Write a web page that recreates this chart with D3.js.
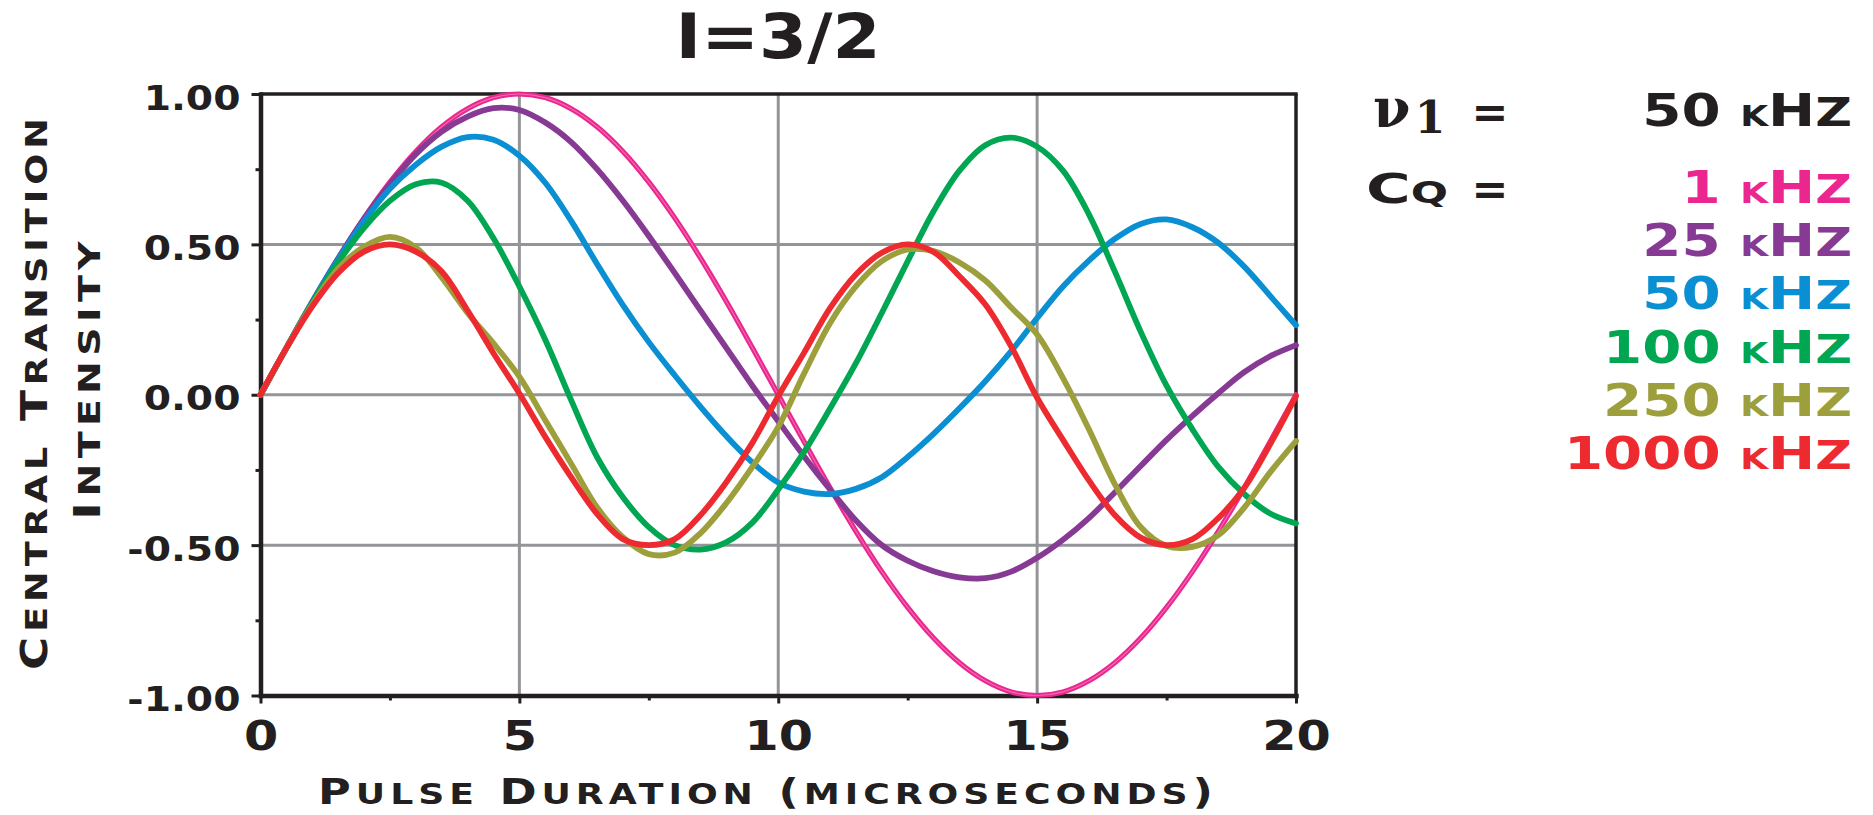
<!DOCTYPE html>
<html>
<head>
<meta charset="utf-8">
<script src="https://cdn.jsdelivr.net/npm/d3@7"></script>
<style>
  html, body { margin: 0; padding: 0; background: #ffffff; }
  svg { display: block; }
  text { font-family: "DejaVu Sans", sans-serif; font-weight: bold; fill: #231f20; }
</style>
</head>
<body>
<svg id="chart" width="1873" height="815"></svg>
<script>
// Pulse duration samples (microseconds)
const pulseTimes = [0,0.5,1,1.5,2,2.5,3,3.5,4,4.5,5,5.5,6,6.5,7,7.5,8,8.5,9,9.5,10,
  10.5,11,11.5,12,12.5,13,13.5,14,14.5,15,15.5,16,16.5,17,17.5,18,18.5,19,19.5,20];

// Central transition intensity for each quadrupole coupling constant
const cq1 = [0,0.156,0.309,0.454,0.588,0.707,0.809,0.891,0.951,0.988,1.000,
  0.988,0.951,0.891,0.809,0.707,0.588,0.454,0.309,0.156,0,
  -0.156,-0.309,-0.454,-0.588,-0.707,-0.809,-0.891,-0.951,-0.988,-1.000,
  -0.988,-0.951,-0.891,-0.809,-0.707,-0.588,-0.454,-0.309,-0.156,0];
const cq25 = [0,0.156,0.309,0.453,0.585,0.700,0.800,0.875,0.925,0.953,0.947,
  0.905,0.840,0.750,0.645,0.528,0.405,0.280,0.155,0.030,-0.088,
  -0.205,-0.315,-0.418,-0.500,-0.552,-0.587,-0.607,-0.610,-0.588,-0.542,
  -0.482,-0.410,-0.325,-0.237,-0.150,-0.070,0.005,0.075,0.128,0.165];
const cq50 = [0,0.155,0.308,0.450,0.578,0.685,0.765,0.825,0.857,0.848,0.795,
  0.705,0.578,0.435,0.298,0.175,0.065,-0.040,-0.138,-0.225,-0.292,
  -0.322,-0.330,-0.313,-0.274,-0.207,-0.130,-0.045,0.045,0.145,0.255,
  0.360,0.446,0.518,0.568,0.583,0.557,0.505,0.426,0.329,0.231];
const cq100 = [0,0.155,0.305,0.440,0.555,0.645,0.700,0.705,0.645,0.520,0.360,
  0.183,-0.018,-0.207,-0.341,-0.440,-0.500,-0.515,-0.490,-0.425,-0.315,
  -0.190,-0.046,0.105,0.272,0.444,0.610,0.745,0.830,0.855,0.825,
  0.745,0.600,0.410,0.210,0.030,-0.115,-0.240,-0.330,-0.395,-0.428];
const cq250 = [0,0.155,0.300,0.420,0.492,0.525,0.490,0.390,0.272,0.171,0.060,
  -0.085,-0.229,-0.374,-0.474,-0.530,-0.525,-0.460,-0.360,-0.240,-0.107,
  0.071,0.238,0.360,0.444,0.483,0.478,0.440,0.380,0.290,0.200,
  0.055,-0.115,-0.297,-0.440,-0.503,-0.506,-0.467,-0.375,-0.258,-0.154];
const cq1000 = [0,0.155,0.294,0.405,0.476,0.500,0.476,0.410,0.280,0.138,0.004,
  -0.140,-0.274,-0.396,-0.480,-0.500,-0.480,-0.400,-0.290,-0.160,-0.005,
  0.140,0.288,0.400,0.472,0.500,0.475,0.394,0.300,0.160,-0.010,
  -0.150,-0.285,-0.400,-0.475,-0.500,-0.480,-0.410,-0.310,-0.165,-0.005];

const seriesLabels = ["1 kHz", "25 kHz", "50 kHz", "100 kHz", "250 kHz", "1000 kHz"];
const seriesValues = [cq1, cq25, cq50, cq100, cq250, cq1000];
const seriesColors = ["#ec268f", "#873a94", "#0a8fd3", "#00a651", "#9d9f3c", "#ed2a2f"];

const xMajorTicks = [0, 5, 10, 15, 20];
const xTickLabels = ["0", "5", "10", "15", "20"];
const xMinorTicks = [2.5, 7.5, 12.5, 17.5];
const yMajorTicks = [-1, -0.5, 0, 0.5, 1];
const yTickLabels = ["-1.00", "-0.50", "0.00", "0.50", "1.00"];
const yMinorTicks = [-0.75, -0.25, 0.25, 0.75];
const xGrid = [5, 10, 15];
const yGrid = [-0.5, 0, 0.5];

const titleText = "I=3/2";
const xTitle = "Pulse Duration (microseconds)";
const yTitleLines = ["Central Transition", "Intensity"];
const rfLabel = "50 kHz";

// ---- layout ----
const svg = d3.select("#chart");
const ink = "#231f20";
const gridGray = "#939598";
const plot = { left: 260.5, right: 1296, top: 94, bottom: 695.5 };

const x = d3.scaleLinear().domain([0, 20]).range([plot.left, plot.right]);
const y = d3.scaleLinear().domain([-1, 1]).range([plot.bottom, plot.top]);

svg.append("rect").attr("width", 1873).attr("height", 815).attr("fill", "#ffffff");

// Small-caps text: lowercase letters drawn as reduced capitals
function smallCaps(sel, str, size, ratioFor) {
  const runs = [];
  for (const ch of str) {
    const low = /[a-z]/.test(ch);
    const r = low ? ratioFor(ch) : 1;
    const last = runs[runs.length - 1];
    if (last && last.r === r) last.s += ch;
    else runs.push({ r, s: ch });
  }
  sel.selectAll("tspan").data(runs).join("tspan")
    .style("font-size", d => (size * d.r) + "px")
    .style("text-transform", d => d.r !== 1 ? "uppercase" : null)
    .text(d => d.s);
  return sel;
}

// Horizontal stretch about an anchor x (wide engraved letterforms)
function stretch(sel, sx, ax) {
  sel.attr("transform", `translate(${ax},0) scale(${sx},1) translate(${-ax},0)`);
}
function fitWidth(sel, width, ax) {
  const w = sel.node().getBBox().width;
  stretch(sel, width / w, ax);
}

// ---- grid ----
const grid = svg.append("g");
grid.selectAll("line.v").data(xGrid).join("line")
  .attr("x1", d => x(d)).attr("x2", d => x(d))
  .attr("y1", y(1)).attr("y2", y(-1))
  .attr("stroke", gridGray).attr("stroke-width", 3);
grid.selectAll("line.h").data(yGrid).join("line")
  .attr("x1", x(0)).attr("x2", x(20))
  .attr("y1", d => y(d)).attr("y2", d => y(d))
  .attr("stroke", gridGray).attr("stroke-width", 3);

// ---- frame (top and right) ----
svg.append("line").attr("x1", x(0)).attr("x2", x(20) + 1.7).attr("y1", y(1)).attr("y2", y(1))
  .attr("stroke", ink).attr("stroke-width", 3.5);
svg.append("line").attr("x1", x(20)).attr("x2", x(20)).attr("y1", y(1)).attr("y2", y(-1))
  .attr("stroke", ink).attr("stroke-width", 3.5);

// ---- axes ----
function styleAxis(g, width) {
  g.attr("font-family", null).attr("font-size", null);
  g.select(".domain").attr("stroke", ink).attr("stroke-width", width).attr("stroke-linecap", "square");
  g.selectAll(".tick line").attr("stroke", ink).attr("stroke-width", 3);
}

const yAxisG = svg.append("g").attr("transform", `translate(${x(0)},0)`)
  .call(d3.axisLeft(y).tickValues(yMajorTicks)
    .tickFormat((d, i) => yTickLabels[i]).tickSize(9).tickPadding(11).tickSizeOuter(0));
styleAxis(yAxisG, 4.5);
yAxisG.selectAll(".tick text")
  .style("font-size", "33px").attr("dy", "15px")
  .each(function () { stretch(d3.select(this), 1.19, -20); });

const yMinorG = svg.append("g").attr("transform", `translate(${x(0)},0)`)
  .call(d3.axisLeft(y).tickValues(yMinorTicks).tickFormat("").tickSize(5).tickSizeOuter(0));
yMinorG.select(".domain").remove();
yMinorG.selectAll(".tick line").attr("stroke", ink).attr("stroke-width", 3);

const xAxisG = svg.append("g").attr("transform", `translate(0,${y(-1)})`)
  .call(d3.axisBottom(x).tickValues(xMajorTicks)
    .tickFormat((d, i) => xTickLabels[i]).tickSize(8).tickSizeOuter(0));
styleAxis(xAxisG, 4.5);
xAxisG.selectAll(".tick text")
  .style("font-size", "41px").attr("y", 54.5).attr("dy", 0)
  .each(function () { stretch(d3.select(this), 1.2, 0); });

const xMinorG = svg.append("g").attr("transform", `translate(0,${y(-1)})`)
  .call(d3.axisBottom(x).tickValues(xMinorTicks).tickFormat("").tickSize(5).tickSizeOuter(0));
xMinorG.select(".domain").remove();
xMinorG.selectAll(".tick line").attr("stroke", ink).attr("stroke-width", 3);

// ---- curves ----
const line = d3.line()
  .x((d, i) => x(pulseTimes[i]))
  .y(d => y(d))
  .curve(d3.curveCatmullRom.alpha(0.5));

const curves = svg.append("g").attr("fill", "none")
  .attr("stroke-linejoin", "round").attr("stroke-linecap", "round");
seriesValues.forEach((vals, k) => {
  curves.append("path").attr("d", line(vals))
    .attr("stroke", seriesColors[k]).attr("stroke-width", k === 0 ? 5.2 : 5.8);
  if (k === 0) {
    curves.append("path").attr("d", line(vals))
      .attr("stroke", "#f4a6cc").attr("stroke-width", 1.1).attr("stroke-opacity", 0.55);
  }
});

// ---- titles ----
const title = svg.append("text").attr("x", 778).attr("y", 58)
  .attr("text-anchor", "middle").style("font-size", "62px").text(titleText);
fitWidth(title, 205, 778);

const xt = svg.append("text").attr("x", 768).attr("y", 804)
  .attr("text-anchor", "middle").style("letter-spacing", "4px");
smallCaps(xt, xTitle, 36, () => 0.81);
fitWidth(xt, 900, 768);

const yTitlePos = [{ bx: 47, cy: 391.5, w: 557 }, { bx: 100, cy: 378, w: 284 }];
yTitleLines.forEach((s, i) => {
  const p = yTitlePos[i];
  const g = svg.append("g").attr("transform", `translate(${p.bx},${p.cy}) rotate(-90)`);
  const t = g.append("text").attr("x", 0).attr("y", 0)
    .attr("text-anchor", "middle").style("letter-spacing", "4px");
  smallCaps(t, s, 37, () => 0.81);
  fitWidth(t, p.w, 0);
});

// ---- legend ----
const legend = svg.append("g");
const kHzRatio = ch => (ch === "z" ? 0.9 : 0.64);

legend.append("text").attr("x", 1373).attr("y", 127)
  .style("font-family", "'DejaVu Serif', serif").style("font-size", "54px").text("ν");
legend.append("text").attr("x", 1430).attr("y", 133).attr("text-anchor", "middle")
  .style("font-family", "'DejaVu Serif', serif").style("font-size", "44px").text("1");
legend.append("text").attr("x", 1490).attr("y", 127).attr("text-anchor", "middle")
  .style("font-size", "44px").text("=");

const cqLabel = legend.append("text").attr("x", 1366).attr("y", 203);
smallCaps(cqLabel, "Cq", 41, () => 0.72);
fitWidth(cqLabel, 82, 1366);
legend.append("text").attr("x", 1490).attr("y", 204).attr("text-anchor", "middle")
  .style("font-size", "44px").text("=");

const rfText = legend.append("text").attr("x", 1852).attr("y", 126).attr("text-anchor", "end");
smallCaps(rfText, rfLabel, 44, kHzRatio);
stretch(rfText, 1.28, 1852);

seriesLabels.forEach((s, i) => {
  const t = legend.append("text").attr("x", 1852).attr("y", 203 + i * 53.2)
    .attr("text-anchor", "end").style("fill", seriesColors[i]);
  smallCaps(t, s, 44, kHzRatio);
  stretch(t, 1.28, 1852);
});
</script>
</body>
</html>
